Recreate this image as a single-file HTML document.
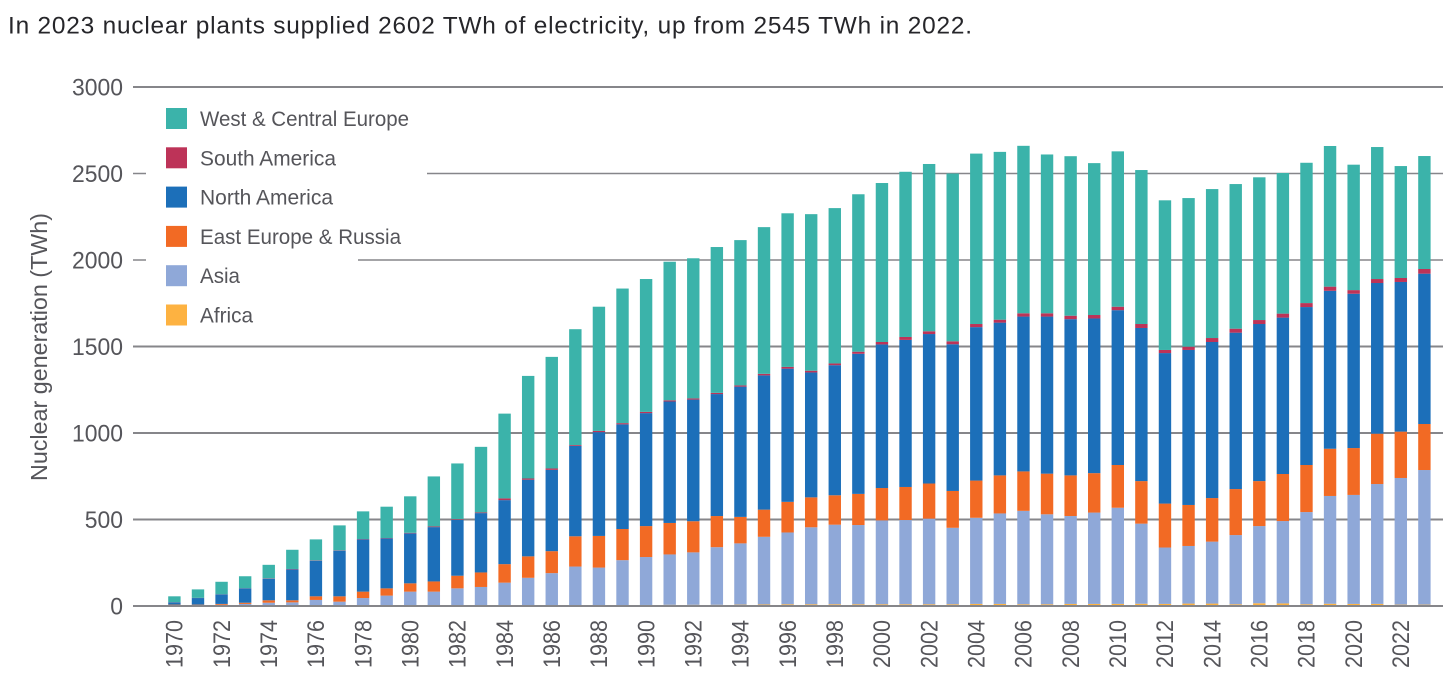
<!DOCTYPE html>
<html lang="en">
<head>
<meta charset="utf-8">
<title>Nuclear generation by region</title>
<style>
html,body{margin:0;padding:0;background:#fff;width:1456px;height:691px;overflow:hidden}
svg{display:block}
text{font-family:"Liberation Sans",sans-serif}
</style>
</head>
<body>
<svg id="chart" width="1456" height="691" viewBox="0 0 1456 691" xmlns="http://www.w3.org/2000/svg">
  <text x="8" y="33.5" font-size="24.4" fill="#26262a" textLength="964" lengthAdjust="spacing">In 2023 nuclear plants supplied 2602 TWh of electricity, up from 2545 TWh in 2022.</text>
  <text transform="translate(47,347) rotate(-90)" text-anchor="middle" font-size="23.5" fill="#55555a" textLength="268" lengthAdjust="spacingAndGlyphs">Nuclear generation (TWh)</text>
  <g id="grid"></g>
  <g id="ticks"></g>
  <g id="bars"></g>
  <line id="baseline" stroke="#86868a" stroke-width="2"></line>
  <g id="xlabels"></g>
  <g id="legend"></g>
</svg>
<script>
const years = [1970,1971,1972,1973,1974,1975,1976,1977,1978,1979,1980,1981,1982,1983,1984,1985,1986,1987,1988,1989,1990,1991,1992,1993,1994,1995,1996,1997,1998,1999,2000,2001,2002,2003,2004,2005,2006,2007,2008,2009,2010,2011,2012,2013,2014,2015,2016,2017,2018,2019,2020,2021,2022,2023];
const africa = [0,0,0,0,0,0,0,0,0,0,0,0,0,0,0,2,3,4,5,5,6,7,7,7,8,9,10,10,10,10,10,10,10,10,12,12,10,10,12,12,12,13,12,14,14,10,16,15,10,13,12,12,8,8];
const asia = [5,6,7,12,19,21,35,25,46,60,83,83,102,110,135,161,187,224,217,260,277,291,303,333,354,391,415,445,460,458,485,487,495,442,498,523,540,520,508,528,556,463,326,333,358,400,446,476,533,623,630,693,732,778];
const eastEurope = [3,2,5,7,14,12,21,31,37,42,48,59,73,84,107,124,127,175,183,180,179,182,180,180,153,157,177,173,170,180,187,191,203,213,215,220,228,235,235,228,247,246,254,237,252,266,260,272,272,273,271,291,268,266];
const northAmerica = [13,38,55,83,125,179,206,264,302,289,289,314,323,343,370,443,470,522,600,605,653,702,703,705,753,776,770,722,752,810,830,850,864,848,887,883,895,908,903,894,895,885,870,896,902,904,908,904,913,913,892,871,865,869];
const southAmerica = [1,1,1,1,2,2,2,2,2,2,3,4,4,4,10,7,8,5,7,7,7,7,7,7,7,9,10,10,10,12,14,17,16,17,18,17,19,19,20,20,20,23,18,19,23,23,23,23,23,24,21,23,23,27];
const westCentralEurope = [34,49,72,69,78,111,121,144,160,181,211,289,322,379,490,593,645,670,718,778,768,801,810,843,840,848,888,905,898,910,919,955,967,970,985,970,968,918,922,878,898,890,865,859,861,836,825,813,811,813,725,763,647,653];
const yTicks = [0,500,1000,1500,2000,2500,3000];
const xTickYears = [1970,1972,1974,1976,1978,1980,1982,1984,1986,1988,1990,1992,1994,1996,1998,2000,2002,2004,2006,2008,2010,2012,2014,2016,2018,2020,2022];
const legendLabels = ["West & Central Europe","South America","North America","East Europe & Russia","Asia","Africa"];

const SVGNS = "http://www.w3.org/2000/svg";
const plot = {left:133, right:1443, y0:606, y3000:87, firstX:174.4, lastX:1424.4, barW:12.4};
function yScale(v){ return plot.y0 - (v/3000)*(plot.y0-plot.y3000); }
function xScale(yr){ return plot.firstX + (yr-years[0])*(plot.lastX-plot.firstX)/(years[years.length-1]-years[0]); }
function mk(tag, parent){ const e=document.createElementNS(SVGNS,tag); parent.appendChild(e); return e; }

const seriesStack = [
  {key:"africa", values:africa, color:"#fdb241"},
  {key:"asia", values:asia, color:"#8fa8d8"},
  {key:"east-europe-russia", values:eastEurope, color:"#f26a24"},
  {key:"north-america", values:northAmerica, color:"#1c6fb9"},
  {key:"south-america", values:southAmerica, color:"#bd3358"},
  {key:"west-central-europe", values:westCentralEurope, color:"#3bb3aa"}
];
const legendColors = ["#3bb3aa","#bd3358","#1c6fb9","#f26a24","#8fa8d8","#fdb241"];
const legendWidths = [209,136,133,201,40,53];

// gridlines
const gridG = document.getElementById("grid");
yTicks.forEach(function(t){
  if(t===0) return;
  const l = mk("line", gridG);
  
  
  l.setAttribute("x1", plot.left);
  l.setAttribute("x2", plot.right);
  l.setAttribute("y1", yScale(t));
  l.setAttribute("y2", yScale(t));
  l.setAttribute("stroke", "#86868a");
  l.setAttribute("stroke-width", t===3000||t===1500||t===1000||t===500 ? 2 : 1.6);
});

// legend backing masks the gridlines behind the legend
const legendG = document.getElementById("legend");
[[146,150,281,40],[146,237,212,40]].forEach(function(b){
  const r = mk("rect", gridG);
  
  
  r.setAttribute("x", b[0]);
  r.setAttribute("y", b[1]);
  r.setAttribute("width", b[2]);
  r.setAttribute("height", b[3]);
  r.setAttribute("fill", "#fff");
});

// y tick labels
const tickG = document.getElementById("ticks");
yTicks.forEach(function(t){
  const tx = mk("text", tickG);
  
  
  tx.setAttribute("x", 123);
  tx.setAttribute("y", yScale(t)+8.5);
  tx.setAttribute("text-anchor", "end");
  tx.setAttribute("font-size", "24");
  tx.setAttribute("fill", "#55555a");
  tx.setAttribute("textLength", String(t).length*12.75);
  tx.setAttribute("lengthAdjust", "spacingAndGlyphs");
  tx.textContent = String(t);
});

// bars
const barsG = document.getElementById("bars");
years.forEach(function(yr,i){
  let cum = 0;
  const g = mk("g", barsG);
  
  
  seriesStack.forEach(function(s){
    const v = s.values[i];
    const yTop = yScale(cum+v), yBot = yScale(cum);
    cum += v;
    if(v<=0) return;
    const r = mk("rect", g);
    
    
    r.setAttribute("data-series", s.key);
    r.setAttribute("data-year", yr);
    r.setAttribute("x", xScale(yr)-plot.barW/2);
    r.setAttribute("y", yTop);
    r.setAttribute("width", plot.barW);
    r.setAttribute("height", yBot-yTop);
    r.setAttribute("fill", s.color);
  });
});

// baseline
const base = document.getElementById("baseline");
base.setAttribute("x1", plot.left);
base.setAttribute("x2", plot.right);
base.setAttribute("y1", yScale(0));
base.setAttribute("y2", yScale(0));

// x labels
const xG = document.getElementById("xlabels");
xTickYears.forEach(function(yr){
  const tx = mk("text", xG);
  
  
  tx.setAttribute("transform", "translate("+(xScale(yr)+8.2)+",668) rotate(-90)");
  tx.setAttribute("font-size", "24");
  tx.setAttribute("fill", "#55555a");
  tx.setAttribute("textLength", "48");
  tx.setAttribute("lengthAdjust", "spacingAndGlyphs");
  tx.textContent = String(yr);
});

// legend
legendLabels.forEach(function(lbl,i){
  const cy = 118.5 + i*39.3;
  const sw = mk("rect", legendG);
  
  
  sw.setAttribute("x", 166);
  sw.setAttribute("y", cy-10.5);
  sw.setAttribute("width", 21);
  sw.setAttribute("height", 21);
  sw.setAttribute("fill", legendColors[i]);
  const tx = mk("text", legendG);
  
  
  tx.setAttribute("x", 200);
  tx.setAttribute("y", cy+7.5);
  tx.setAttribute("font-size", "21");
  tx.setAttribute("fill", "#55555a");
  tx.setAttribute("textLength", legendWidths[i]);
  tx.setAttribute("lengthAdjust", "spacingAndGlyphs");
  tx.textContent = lbl;
});
</script>
</body>
</html>
